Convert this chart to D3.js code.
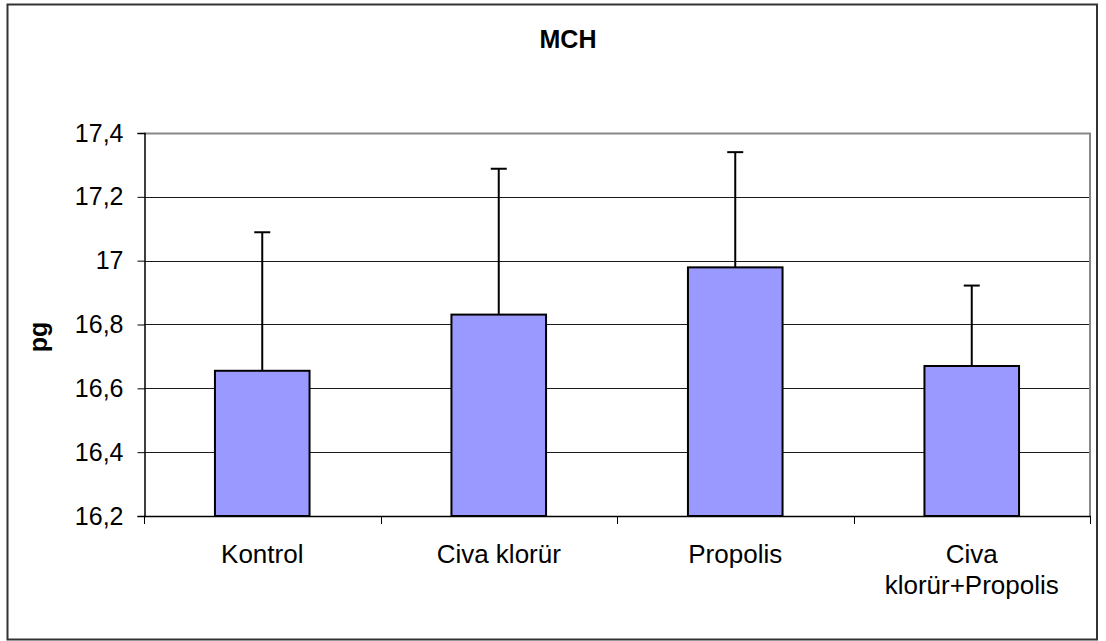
<!DOCTYPE html>
<html>
<head>
<meta charset="utf-8">
<script src="https://cdn.jsdelivr.net/npm/d3@7"></script>
<style>
  html, body { margin: 0; padding: 0; background: #fff; }
  svg { display: block; font-family: "Liberation Sans", Arial, sans-serif; }
</style>
</head>
<body>
<svg id="chart" width="1106" height="641"></svg>
<script>
const categories = [["Kontrol"], ["Civa klorür"], ["Propolis"], ["Civa", "klorür+Propolis"]];
const means = [16.655, 16.831, 16.979, 16.670];
const errorTops = [17.089, 17.288, 17.340, 16.922];
const yTicks = [16.2, 16.4, 16.6, 16.8, 17.0, 17.2, 17.4];
const title = "MCH";
const yLabel = "pg";

const svg = d3.select("#chart");
const plot = { left: 144, right: 1090, top: 133, bottom: 516 };

// outer border
svg.append("rect")
  .attr("x", 7.5).attr("y", 4.5)
  .attr("width", 1089.5).attr("height", 635)
  .attr("fill", "#fff").attr("stroke", "#333").attr("stroke-width", 2);

const x = d3.scaleBand()
  .domain(d3.range(categories.length))
  .range([plot.left, plot.right])
  .paddingInner(0).paddingOuter(0);

const y = d3.scaleLinear().domain([16.2, 17.4]).range([plot.bottom, plot.top]);

// gridlines
svg.append("g").selectAll("line")
  .data(yTicks.filter(t => t > 16.2 && t < 17.4))
  .join("line")
  .attr("x1", plot.left).attr("x2", plot.right)
  .attr("y1", d => Math.round(y(d)) + 0.5).attr("y2", d => Math.round(y(d)) + 0.5)
  .attr("stroke", "#1a1a1a").attr("stroke-width", 1);

// plot area border top/right (gray)
svg.append("path")
  .attr("d", `M${plot.left},${plot.top + 0.5}H${plot.right}V${plot.bottom}`)
  .attr("fill", "none").attr("stroke", "#888").attr("stroke-width", 2);

// bars
const bw = x.bandwidth() * 0.4;
svg.append("g").selectAll("rect")
  .data(means)
  .join("rect")
  .attr("x", (d, i) => x(i) + (x.bandwidth() - bw) / 2)
  .attr("y", d => y(d))
  .attr("width", bw)
  .attr("height", d => y(16.2) - y(d))
  .attr("fill", "#9999ff")
  .attr("stroke", "#000")
  .attr("stroke-width", 2);

// error bars
const eg = svg.append("g").attr("stroke", "#000").attr("stroke-width", 2);
errorTops.forEach((t, i) => {
  const cx = x(i) + x.bandwidth() / 2;
  eg.append("line").attr("x1", cx).attr("x2", cx).attr("y1", y(means[i])).attr("y2", y(t));
  eg.append("line").attr("x1", cx - 8).attr("x2", cx + 8).attr("y1", y(t)).attr("y2", y(t));
});

// y axis
const yAxis = d3.axisLeft(y).tickValues(yTicks).tickSize(7).tickPadding(14)
  .tickFormat(d => d3.format(".1f")(d).replace(".", ",").replace(/,0$/, ""));
const yg = svg.append("g").attr("transform", `translate(${plot.left + 0.5},0)`).call(yAxis);
yg.select(".domain").attr("stroke", "#000").attr("stroke-width", 1.5);
yg.selectAll(".tick line").attr("stroke", "#000");
yg.selectAll(".tick text").attr("font-size", 25).attr("fill", "#000")
  .attr("font-family", "'Liberation Sans', Arial, sans-serif");

// x axis line & ticks
svg.append("line")
  .attr("x1", plot.left).attr("x2", plot.right + 1)
  .attr("y1", plot.bottom + 0.5).attr("y2", plot.bottom + 0.5)
  .attr("stroke", "#000").attr("stroke-width", 1.5);
svg.append("g").selectAll("line")
  .data(d3.range(categories.length + 1))
  .join("line")
  .attr("x1", i => Math.round(i < categories.length ? x(i) : plot.right) + 0.5)
  .attr("x2", i => Math.round(i < categories.length ? x(i) : plot.right) + 0.5)
  .attr("y1", plot.bottom).attr("y2", plot.bottom + 8)
  .attr("stroke", "#000").attr("stroke-width", 1);

// category labels
const xl = svg.append("g");
categories.forEach((lines, i) => {
  const t = xl.append("text")
    .attr("x", x(i) + x.bandwidth() / 2)
    .attr("y", 563)
    .attr("text-anchor", "middle")
    .attr("font-size", 26)
    .attr("fill", "#000");
  lines.forEach((ln, j) => {
    t.append("tspan").attr("x", x(i) + x.bandwidth() / 2).attr("dy", j === 0 ? 0 : 31).text(ln);
  });
});

// title
svg.append("text")
  .attr("x", 568).attr("y", 48)
  .attr("text-anchor", "middle")
  .attr("font-size", 25).attr("font-weight", "bold")
  .text(title);

// y label
svg.append("text")
  .attr("transform", "translate(47,337) rotate(-90)")
  .attr("text-anchor", "middle")
  .attr("font-size", 25).attr("font-weight", "bold")
  .text(yLabel);
</script>
</body>
</html>
